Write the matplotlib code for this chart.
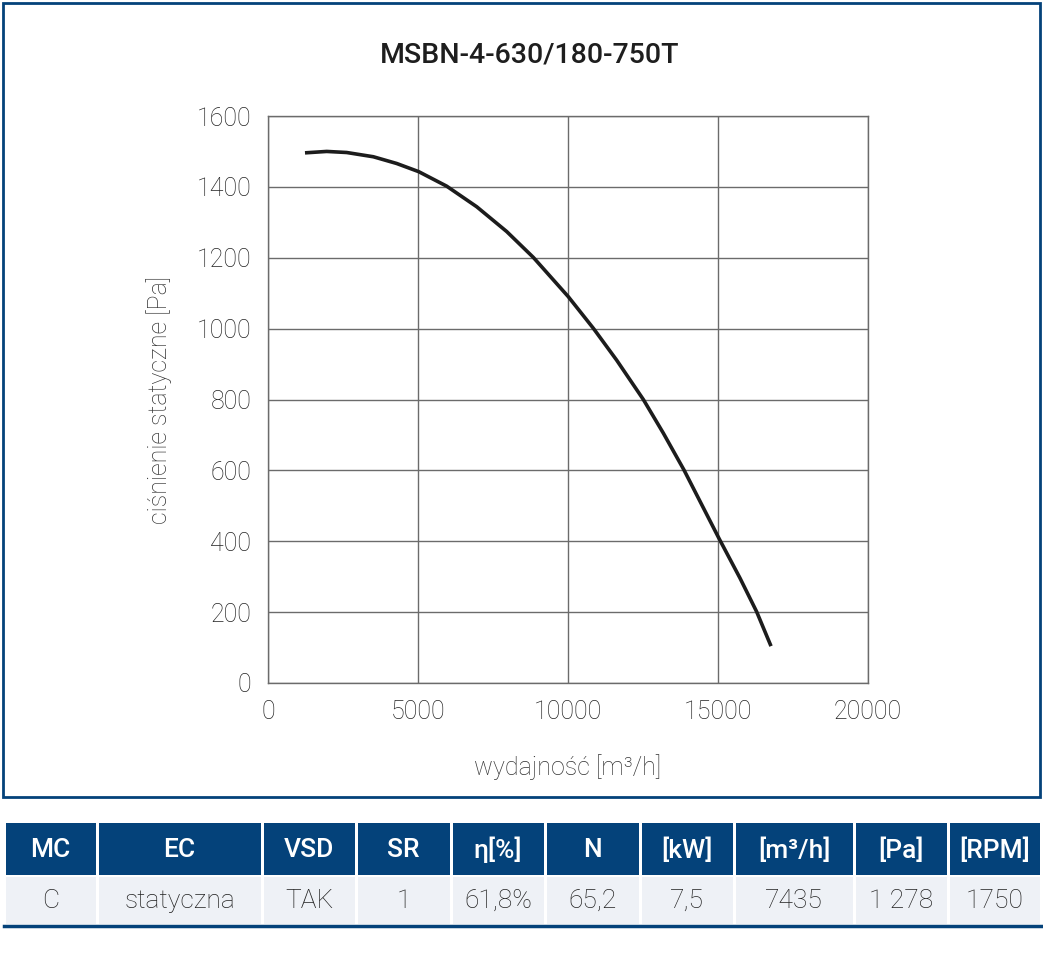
import matplotlib
matplotlib.use("Agg")
import matplotlib.pyplot as plt
from matplotlib.patches import Rectangle

plt.rcParams['font.family'] = ['Roboto', 'DejaVu Sans']

# fan curve
flow = [1233, 1956, 2622, 3511, 4289, 5022, 5956, 6956, 7956, 8844,
        10011, 10844, 11622, 12511, 13178, 13867, 15033, 15733,
        16289, 16767]
pressure = [1496, 1500, 1497, 1485, 1466, 1443, 1402, 1344, 1274, 1201,
            1090, 1001, 911, 800, 705, 601, 408, 296,
            201, 104]

title = "MSBN-4-630/180-750T"
x_ticks = [0, 5000, 10000, 15000, 20000]
y_ticks = [0, 200, 400, 600, 800, 1000, 1200, 1400, 1600]

# table under the chart
headers = ["MC", "EC", "VSD", "SR", "η[%]", "N", "[kW]", "[m³/h]", "[Pa]", "[RPM]"]
row = ["C", "statyczna", "TAK", "1", "61,8%", "65,2", "7,5", "7435", "1 278", "1750"]
col_edges = [4, 97, 262, 356, 451, 545, 640, 734, 854, 948, 1041]

navy = "#04427a"
grid_col = "#6b6b6b"
text_col = "#222222"

fig = plt.figure(figsize=(10.43, 9.57), dpi=100)

# background layer in pixel coords for the frame and the table
bg = fig.add_axes([0, 0, 1, 1], zorder=0)
bg.set_xlim(0, 1043)
bg.set_ylim(957, 0)
bg.axis("off")
bg.add_patch(Rectangle((3, 3), 1037, 794, fill=False, edgecolor=navy, lw=2))

for i in range(len(headers)):
    x0 = col_edges[i]
    w = col_edges[i + 1] - col_edges[i]
    bg.add_patch(Rectangle((x0 + 1.5, 823), w - 3, 52, facecolor=navy, edgecolor="none"))
    bg.add_patch(Rectangle((x0 + 1.5, 877), w - 3, 47, facecolor="#eef1f6", edgecolor="none"))
    cx = x0 + w / 2
    bg.text(cx, 850, headers[i], ha="center", va="center", color="white",
            fontsize=19, fontweight="medium")
    bg.text(cx, 901, row[i], ha="center", va="center", color=text_col,
            fontsize=19, fontweight="light")
bg.plot([4, 1041], [925.5, 925.5], color=navy, lw=2.5)

fig.text(0.508, 1 - 55 / 957, title, ha="center", va="center", fontsize=20.5,
         fontweight="medium", color="#1e1e1e")

ax = fig.add_axes([268 / 1043, 1 - 683 / 957, 600 / 1043, 567 / 957], zorder=1)
ax.patch.set_alpha(0)
ax.plot(flow, pressure, color="#1c1c1c", lw=2.6, solid_capstyle="butt",
        solid_joinstyle="round")
ax.set_xlim(0, 20000)
ax.set_ylim(0, 1600)
ax.set_xticks(x_ticks)
ax.set_yticks(y_ticks)
ax.grid(True, color=grid_col, lw=1)
for s in ax.spines.values():
    s.set_color(grid_col)
    s.set_linewidth(1)
ax.tick_params(length=0, labelsize=18, labelcolor=text_col, pad=12)
for lbl in ax.get_xticklabels() + ax.get_yticklabels():
    lbl.set_fontweight("light")
ax.set_xlabel("wydajność [m³/h]", fontsize=18, color="#333333", labelpad=22,
              fontweight="light")
ax.set_ylabel("ciśnienie statyczne [Pa]", fontsize=18, color="#333333", labelpad=18,
              fontweight="light")

fig.savefig("out.png", dpi=100)
